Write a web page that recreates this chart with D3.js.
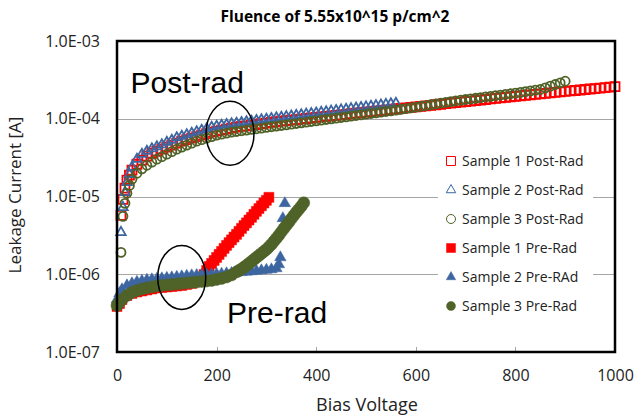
<!DOCTYPE html>
<html>
<head>
<meta charset="utf-8">
<script src="https://cdn.jsdelivr.net/npm/d3@7"></script>
<style>
body { margin:0; background:#fff; }
text { font-family: "Open Sans", sans-serif; fill:#000; }
</style>
</head>
<body>
<svg width="634" height="416"></svg>
<script>

// bias voltages (V) shared by the post-rad series
var postV = [8,12,16,20,25,30,40,50,60,70,80,90,100,110,120,130,140,150,160,170,180,190,200,
	210,220,230,240,250,260,270,280,290,300,310,320,330,340,350,360,370,380,390,400,
	410,420,430,440,450,460,470,480,490,500,510,520,530,540,550,560,570,580,590,600,
	610,620,630,640,650,660,670,680,690,700,710,720,730,740,750,760,770,780,790,800,
	810,820,830,840,850,860,870,880,890,900,910,920,930,940,950,960,970,980,990,1000];

// leakage current in uA
var post1I = [5.72,9.20,12.8,16.2,18.8,21.8,26.0,29.3,33.0,36.0,38.2,40.6,43.1,45.7,48.5,51.4,53.8,56.2,58.8,61.5,64.3,67.2,69.2,
	71.3,73.4,75.7,77.9,79.6,81.2,82.7,84.4,86.2,87.8,89.6,91.5,93.1,94.6,96.1,97.6,99.1,100.7,102.3,103.9,
	105.5,107.2,108.9,110.6,112.4,114.1,115.9,117.8,119.6,121.5,123.4,125.4,127.4,129.4,131.4,133.5,135.6,137.7,139.9,142.1,
	144.3,146.6,148.9,151.3,153.7,156.1,158.6,161.1,163.6,166.2,168.8,171.5,174.2,176.9,179.7,182.6,185.4,188.4,191.3,194.4,
	197.2,200.0,202.9,205.9,208.9,211.9,215.0,218.1,221.3,224.5,227.7,231.0,234.4,237.8,241.2,244.7,248.3,251.9,255.5,259.2];
var post2I = [3.46,7.26,11.3,15.2,19.3,23.8,30.2,35.0,38.2,41.2,43.7,46.4,49.9,53.0,57.1,59.7,62.4,65.2,68.2,71.3,74.6,77.9,80.3,
	82.7,84.4,86.2,87.8,89.6,91.5,93.1,95.1,97.1,98.8,100.9,103.0,104.9,106.8,108.7,110.7,112.7,114.8,116.9,119.0,
	121.2,123.4,125.6,127.9,130.2,132.6,135.0,137.5,140.0,142.5,145.1,147.8,150.5,153.2,156.0,158.8];
var post3I = [1.91,5.56,8.17,11.0,13.9,16.7,19.9,22.7,25.2,27.6,30.2,32.5,35.0,37.7,40.6,43.1,45.7,48.5,51.4,53.8,56.2,58.8,61.5,
	63.3,65.2,67.2,68.6,70.0,71.3,72.8,74.3,75.7,77.3,78.9,80.5,81.9,83.5,85.2,86.9,88.6,90.4,92.2,94.0,
	95.9,97.8,99.8,101.8,103.8,105.9,108.0,110.1,112.3,114.6,116.9,119.2,121.6,124.0,126.5,129.0,132.0,135.0,138.1,141.3,
	144.6,147.9,151.3,154.8,158.4,162.0,165.8,169.6,173.5,176.8,180.2,183.6,187.1,190.7,194.3,198.0,201.8,205.7,209.6,213.6,
	218.3,223.1,228.0,233.0,238.1,250.0,262.5,275.6,289.4,303.9];

var pre1V = [0,5,10,20,30,40,50,60,70,80,90,100,110,120,130,140,150,160,170,175,180,185,190,195,200,
	205,210,215,220,225,230,235,240,245,250,255,260,265,270,275,280,285,290,295,300,305];
var pre1I = [0.385,0.420,0.473,0.533,0.566,0.591,0.609,0.628,0.646,0.666,0.676,0.686,0.696,0.707,0.717,0.739,0.761,0.807,0.909,0.994,1.119,1.26,1.377,1.505,1.646,
	1.80,1.967,2.15,2.35,2.55,2.77,3.01,3.26,3.56,3.89,4.23,4.58,4.98,5.40,5.90,6.45,7.00,7.59,8.25,8.93,9.76];
var pre2V = [0,5,10,20,30,40,50,60,70,80,90,100,110,120,130,140,150,160,170,180,190,200,
	210,220,230,240,250,260,270,280,290,300,310,320,325,328,333,337];
var pre2I = [0.473,0.566,0.637,0.717,0.761,0.796,0.820,0.844,0.857,0.870,0.883,0.896,0.909,0.923,0.937,0.951,0.965,0.971,0.979,0.988,0.994,1.003,
	1.012,1.024,1.036,1.049,1.061,1.074,1.086,1.103,1.119,1.136,1.153,1.188,1.337,1.646,5.24,8.17];
var pre3V = [0,5,10,20,30,40,50,60,70,80,90,100,110,120,130,140,150,160,170,180,190,200,210,220,230,240,
	245,250,255,260,265,270,275,280,285,290,295,300,305,310,315,320,325,330,335,340,345,350,355,360,365,370,375];
var pre3I = [0.396,0.433,0.473,0.533,0.582,0.618,0.646,0.666,0.686,0.707,0.717,0.728,0.739,0.750,0.761,0.772,0.784,0.796,0.807,0.820,0.832,0.857,0.883,0.923,0.979,1.071,
	1.119,1.170,1.230,1.298,1.377,1.462,1.551,1.646,1.747,1.854,1.967,2.087,2.247,2.420,2.65,2.893,3.18,3.508,3.87,4.254,4.68,5.160,5.69,6.257,6.84,7.477,8.30];

var seriesNames = ["Sample 1 Post-Rad","Sample 2 Post-Rad","Sample 3 Post-Rad","Sample 1 Pre-Rad","Sample 2 Pre-RAd","Sample 3 Pre-Rad"];
var xTicks = [0,200,400,600,800,1000];
var yTicks = [1e-7,1e-6,1e-5,1e-4,1e-3];

var red = "#ff0000", blue = "#3d66a1", green = "#4f6228";

var series = [
	{v:postV, i:post1I, shape:"square", fill:false, color:red, size:9},
	{v:postV, i:post2I, shape:"triangle", fill:false, color:blue, size:9},
	{v:postV, i:post3I, shape:"circle", fill:false, color:green, size:9},
	{v:pre1V, i:pre1I, shape:"square", fill:true, color:red, size:10},
	{v:pre2V, i:pre2I, shape:"triangle", fill:true, color:blue, size:11},
	{v:pre3V, i:pre3I, shape:"circle", fill:true, color:green, size:12}
];

var svg = d3.select("svg")
	.style("background-color","white");

var plotL = 117, plotR = 615, plotT = 41, plotB = 352;

var x = d3.scaleLinear()
	.domain([0,1000])
	.range([plotL,plotR]);
var y = d3.scaleLog()
	.domain([1e-7,1e-3])
	.range([plotB,plotT]);

// gridlines
svg.append("g")
	.selectAll("line")
	.data(yTicks.slice(1,4))
	.join("line")
	.attr("x1",plotL).attr("x2",plotR)
	.attr("y1",function(d){ return Math.round(y(d))+0.5; })
	.attr("y2",function(d){ return Math.round(y(d))+0.5; })
	.attr("stroke","#a6a6a6")
	.attr("stroke-width",1);

// small ticks along bottom
svg.append("g")
	.selectAll("line")
	.data(xTicks.slice(1,5))
	.join("line")
	.attr("x1",function(d){ return Math.round(x(d))+0.5; })
	.attr("x2",function(d){ return Math.round(x(d))+0.5; })
	.attr("y1",plotB-5).attr("y2",plotB)
	.attr("stroke","#a6a6a6");

// legend box sits over the gridlines
svg.append("rect")
	.attr("x",438).attr("y",146)
	.attr("width",155).attr("height",172)
	.attr("fill","white");

function markerPath(shape, s){
	if (shape == "square") return d3.symbol(d3.symbolSquare, s*s)();
	if (shape == "triangle") return d3.symbol(d3.symbolTriangle, Math.sqrt(3)/4*s*s*1.1)();
	return d3.symbol(d3.symbolCircle, Math.PI*s*s/4)();
}

series.forEach(function(sr){
	var pts = sr.i.map(function(d,k){ return {v:sr.v[k], i:d*1e-6}; });
	svg.append("g")
		.selectAll("path")
		.data(pts)
		.join("path")
		.attr("transform",function(d){ return "translate("+x(d.v)+","+y(d.i)+")"; })
		.attr("d",markerPath(sr.shape,sr.size))
		.attr("fill",sr.fill ? sr.color : "none")
		.attr("stroke",sr.color)
		.attr("stroke-width",sr.fill ? 0.5 : 1.8);
});

// legend
var legend = svg.append("g")
	.selectAll("g")
	.data(series)
	.join("g")
	.attr("transform",function(d,i){ return "translate(451,"+(161+i*29)+")"; });
legend.append("path")
	.attr("d",function(d){ return markerPath(d.shape,9); })
	.attr("fill",function(d){ return d.fill ? d.color : "none"; })
	.attr("stroke",function(d){ return d.color; })
	.attr("stroke-width",function(d){ return d.fill ? 0.5 : 1; });
legend.append("text")
	.attr("x",11)
	.attr("dy","0.35em")
	.style("font-size","14px")
	.style("fill","#222")
	.text(function(d,i){ return seriesNames[i]; });

// annotations
svg.append("ellipse")
	.attr("cx",x(227)).attr("cy",y(6.5e-5))
	.attr("rx",24).attr("ry",32)
	.attr("fill","none").attr("stroke","black").attr("stroke-width",1.5);
svg.append("ellipse")
	.attr("cx",x(130)).attr("cy",y(9.1e-7))
	.attr("rx",24).attr("ry",32)
	.attr("fill","none").attr("stroke","black").attr("stroke-width",1.5);
svg.append("text")
	.attr("x",x(27)).attr("y",93)
	.style("font-family","'Liberation Sans', Arial, sans-serif")
	.style("font-size","30px")
	.text("Post-rad");
svg.append("text")
	.attr("x",x(221)).attr("y",323)
	.style("font-family","'Liberation Sans', Arial, sans-serif")
	.style("font-size","30px")
	.text("Pre-rad");

// plot frame
svg.append("rect")
	.attr("x",plotL).attr("y",plotT)
	.attr("width",plotR-plotL).attr("height",plotB-plotT)
	.attr("fill","none")
	.attr("stroke","black")
	.attr("stroke-width",2.5);

// axes
var yAxis = svg.append("g")
	.attr("transform","translate("+plotL+",0)")
	.call(d3.axisLeft(y).tickValues(yTicks).tickSize(0).tickPadding(17)
		.tickFormat(function(d){ return "1.0E-0" + Math.round(-Math.log10(d)); }));
yAxis.select(".domain").remove();
yAxis.selectAll("text").style("font-size","16px").style("font-family","'Open Sans', sans-serif").style("fill","#222");

var xAxis = svg.append("g")
	.attr("transform","translate(0,"+plotB+")")
	.call(d3.axisBottom(x).tickValues(xTicks).tickSize(0).tickPadding(18).tickFormat(d3.format("d")));
xAxis.select(".domain").remove();
xAxis.selectAll("text").style("font-size","16px").style("font-family","'Open Sans', sans-serif").style("fill","#222");

// titles
svg.append("text")
	.attr("x",335).attr("y",22)
	.attr("text-anchor","middle")
	.style("font-size","15.5px")
	.style("font-weight","bold")
	.text("Fluence of 5.55x10^15 p/cm^2");
svg.append("text")
	.attr("x",367).attr("y",411)
	.attr("text-anchor","middle")
	.style("font-size","18px")
	.style("fill","#222")
	.text("Bias Voltage");
svg.append("text")
	.attr("transform","translate(21,195) rotate(-90)")
	.attr("text-anchor","middle")
	.style("font-size","17px")
	.style("fill","#222")
	.text("Leakage Current  [A]");

</script>
</body>
</html>
